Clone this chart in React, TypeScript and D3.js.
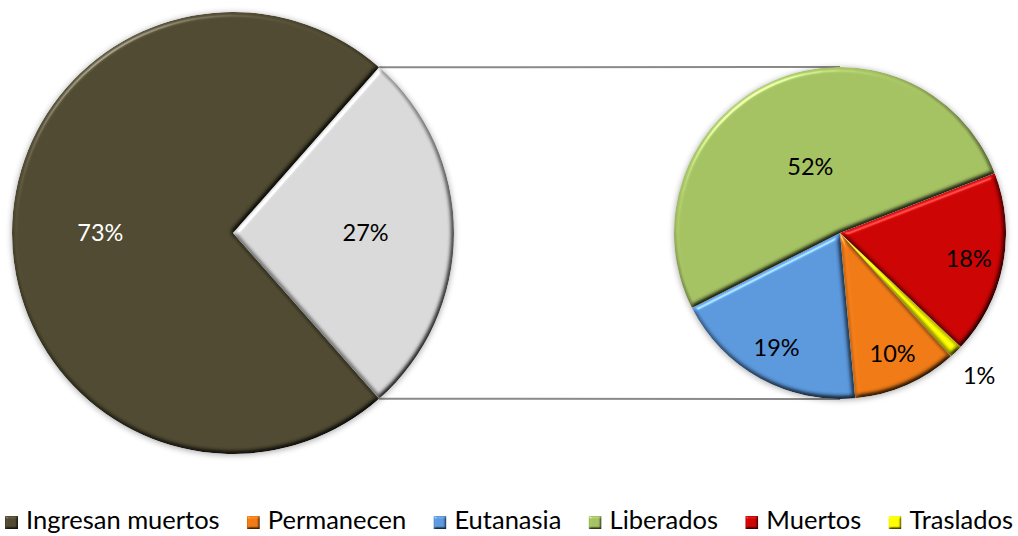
import React, { useRef, useEffect } from "react";
import * as d3 from "d3";

// main pie
const mainLabels = ["Ingresan muertos", "Resto"];
const mainValues = [73, 27];
const mainColors = ["#4f4a31", "#d9d9d9"];

// secondary pie (breakdown of the 27%)
const subLabels = ["Permanecen", "Eutanasia", "Liberados", "Muertos", "Traslados"];
const subValues = [10.2, 19.0, 51.6, 17.9, 1.3];
const subColors = ["#ef7a16", "#5b98dc", "#a5c263", "#cc0404", "#ffff00"];

const legendLabels = [mainLabels[0], ...subLabels];
const legendColors = [mainColors[0], ...subColors];

const W = 1018;
const H = 536;
const FONT = "Lato, 'Open Sans', sans-serif";

const App = () => {
  const svgRef = useRef<SVGSVGElement>(null);

  useEffect(() => {
    const svg = d3.select(svgRef.current);
    svg.selectAll("*").remove();

    const defs = svg.append("defs");

    // soft-round bevel look
    const makeBevel = (id: string, blur: number, scale: number) => {
      const f = defs
        .append("filter")
        .attr("id", id)
        .attr("color-interpolation-filters", "sRGB")
        .attr("x", "-10%")
        .attr("y", "-10%")
        .attr("width", "120%")
        .attr("height", "120%");
      f.append("feGaussianBlur").attr("in", "SourceAlpha").attr("stdDeviation", blur).attr("result", "blur");
      const spec = f
        .append("feSpecularLighting")
        .attr("in", "blur")
        .attr("surfaceScale", scale)
        .attr("specularConstant", 0.8)
        .attr("specularExponent", 30)
        .attr("lighting-color", "#ffffff")
        .attr("result", "spec");
      spec.append("feDistantLight").attr("azimuth", 235).attr("elevation", 30);
      f.append("feComposite").attr("in", "spec").attr("in2", "SourceAlpha").attr("operator", "in").attr("result", "specOut");
      const diff = f
        .append("feDiffuseLighting")
        .attr("in", "blur")
        .attr("surfaceScale", scale)
        .attr("diffuseConstant", 1 / Math.sin(Math.PI / 3))
        .attr("lighting-color", "#ffffff")
        .attr("result", "diff");
      diff.append("feDistantLight").attr("azimuth", 235).attr("elevation", 60);
      f.append("feComposite").attr("in", "diff").attr("in2", "SourceAlpha").attr("operator", "in").attr("result", "diffOut");
      f.append("feComposite")
        .attr("in", "SourceGraphic")
        .attr("in2", "diffOut")
        .attr("operator", "arithmetic")
        .attr("k1", 1)
        .attr("k2", 0)
        .attr("k3", 0)
        .attr("k4", 0)
        .attr("result", "lit");
      f.append("feComposite")
        .attr("in", "lit")
        .attr("in2", "specOut")
        .attr("operator", "arithmetic")
        .attr("k1", 0)
        .attr("k2", 1)
        .attr("k3", 0.45)
        .attr("k4", 0);
    };
    makeBevel("bevel", 2.5, 4);
    makeBevel("bevelSmall", 1.2, 2);

    const shadow = defs.append("filter").attr("id", "shadow").attr("x", "-20%").attr("y", "-20%").attr("width", "140%").attr("height", "140%");
    shadow.append("feGaussianBlur").attr("in", "SourceAlpha").attr("stdDeviation", 3);
    shadow.append("feOffset").attr("dx", 0).attr("dy", 1).attr("result", "o");
    shadow.append("feComponentTransfer").append("feFuncA").attr("type", "linear").attr("slope", 0.35);

    // main pie
    const c1 = { x: 233, y: 233 };
    const r1 = 221;
    const mainShare = mainValues[1] / d3.sum(mainValues);
    const half = Math.PI * mainShare;
    const pie1 = d3
      .pie<number>()
      .sort(null)
      .startAngle(Math.PI / 2 + half)
      .endAngle(Math.PI / 2 + half + 2 * Math.PI);
    const arcs1 = pie1(mainValues);
    const arc1 = d3.arc<d3.PieArcDatum<number>>().innerRadius(0).outerRadius(r1);

    // secondary pie
    const c2 = { x: 840, y: 233 };
    const r2 = 166;
    const subTotal = d3.sum(subValues);
    const subStart = (138 / 180) * Math.PI - (subValues[4] / subTotal) * 2 * Math.PI;
    const subOrder = [4, 0, 1, 2, 3]; // drawn from Traslados clockwise
    const subPie = d3
      .pie<number>()
      .sort(null)
      .startAngle(subStart)
      .endAngle(subStart + 2 * Math.PI);
    const arcs2 = subPie(subOrder.map((i) => subValues[i])).map((a, k) => ({ ...a, idx: subOrder[k] }));
    const arc2 = d3.arc<any>().innerRadius(0).outerRadius(r2);

    // connector lines
    const g = svg.append("g");
    const a0 = arcs1[1].startAngle;
    const a1 = arcs1[1].endAngle;
    const p0 = [c1.x + r1 * Math.sin(a0), c1.y - r1 * Math.cos(a0)];
    const p1 = [c1.x + r1 * Math.sin(a1), c1.y - r1 * Math.cos(a1)];
    g.append("line")
      .attr("x1", p0[0]).attr("y1", p0[1])
      .attr("x2", c2.x).attr("y2", c2.y - r2)
      .attr("stroke", "#8a8a8a").attr("stroke-width", 2);
    g.append("line")
      .attr("x1", p1[0]).attr("y1", p1[1])
      .attr("x2", c2.x).attr("y2", c2.y + r2)
      .attr("stroke", "#8a8a8a").attr("stroke-width", 2);

    const g1 = svg.append("g").attr("transform", `translate(${c1.x},${c1.y})`);
    g1.append("circle").attr("r", r1).attr("fill", "#000").attr("filter", "url(#shadow)");
    g1.selectAll("path.s")
      .data(arcs1)
      .join("path")
      .attr("class", "s")
      .attr("d", arc1)
      .attr("fill", (d, i) => mainColors[i])
      .attr("filter", "url(#bevel)");

    const g2 = svg.append("g").attr("transform", `translate(${c2.x},${c2.y})`);
    g2.append("circle").attr("r", r2).attr("fill", "#000").attr("filter", "url(#shadow)");
    g2.selectAll("path.s")
      .data(arcs2)
      .join("path")
      .attr("class", "s")
      .attr("d", arc2)
      .attr("fill", (d: any) => subColors[d.idx])
      .attr("filter", "url(#bevel)");

    // labels
    const fmt = (v: number, total: number) => `${Math.round((v / total) * 100)}%`;
    const mainTotal = d3.sum(mainValues);
    const labArc1 = d3.arc<d3.PieArcDatum<number>>().innerRadius(r1 * 0.6).outerRadius(r1 * 0.6);
    g1.selectAll("text")
      .data(arcs1)
      .join("text")
      .attr("transform", (d) => {
        const [x, y] = labArc1.centroid(d);
        return `translate(${x},${y})`;
      })
      .attr("text-anchor", "middle")
      .attr("dy", "0.36em")
      .attr("font-family", FONT)
      .attr("font-size", 23.5)
      .attr("fill", (d, i) => (i === 0 ? "#ffffff" : "#000000"))
      .text((d) => fmt(d.value, mainTotal));

    const labArcBig = d3.arc<any>().innerRadius(r2 * 0.44).outerRadius(r2 * 0.44);
    const labArc2 = d3.arc<any>().innerRadius(r2 * 0.79).outerRadius(r2 * 0.79);
    const outArc2 = d3.arc<any>().innerRadius(r2 * 1.2).outerRadius(r2 * 1.2);
    g2.selectAll("text")
      .data(arcs2)
      .join("text")
      .attr("transform", (d: any) => {
        const share = d.value / subTotal;
        const a = share < 0.03 ? outArc2 : share > 0.4 ? labArcBig : labArc2;
        const [x, y] = a.centroid(d);
        return `translate(${x},${y})`;
      })
      .attr("text-anchor", "middle")
      .attr("dy", "0.36em")
      .attr("font-family", FONT)
      .attr("font-size", 23.5)
      .attr("fill", "#000")
      .text((d: any) => fmt(d.value, subTotal));

    // legend
    const leg = svg.append("g");
    const baseline = 529;
    const items = legendLabels.map((label, i) => {
      const rect = leg.append("rect")
        .attr("y", baseline - 13)
        .attr("width", 13).attr("height", 13)
        .attr("fill", legendColors[i])
        .attr("filter", "url(#bevelSmall)");
      const t = leg.append("text")
        .attr("y", baseline)
        .attr("font-family", FONT)
        .attr("font-size", 25.5)
        .attr("fill", "#000")
        .text(label);
      const w = (t.node() as SVGTextElement).getComputedTextLength();
      return { rect, t, w };
    });
    const left = 5;
    const right = 1013;
    const used = d3.sum(items, (it) => 21 + it.w);
    const gap = (right - left - used) / (items.length - 1);
    let x = left;
    items.forEach((it) => {
      it.rect.attr("x", x);
      it.t.attr("x", x + 21);
      x += 21 + it.w + gap;
    });
  }, []);

  return (
    <svg
      ref={svgRef}
      width={W}
      height={H}
      style={{ position: "absolute", left: 0, top: 0, background: "#fff" }}
    />
  );
};

export default App;
